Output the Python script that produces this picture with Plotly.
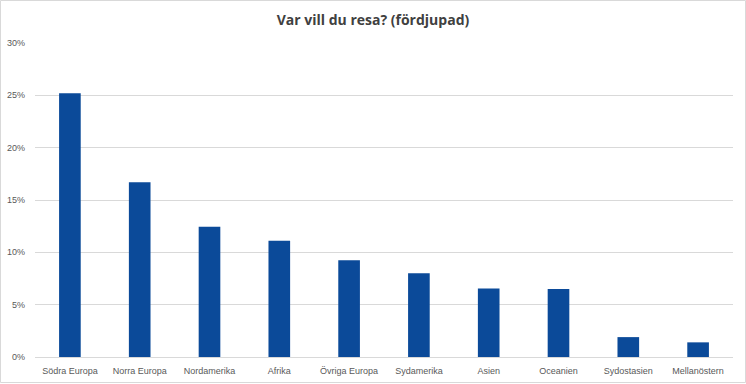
import plotly.graph_objects as go

categories = ["Södra Europa", "Norra Europa", "Nordamerika", "Afrika", "Övriga Europa",
              "Sydamerika", "Asien", "Oceanien", "Sydostasien", "Mellanöstern"]
values = [0.252, 0.167, 0.1245, 0.111, 0.0925, 0.080, 0.0655, 0.065, 0.019, 0.014]
y_ticks = [0, 0.05, 0.10, 0.15, 0.20, 0.25, 0.30]
y_tick_labels = ["0%", "5%", "10%", "15%", "20%", "25%", "30%"]

L, R, T, B = 35, 13, 43, 27
PW, PH = 746 - L - R, 384 - T - B

fig = go.Figure(go.Bar(x=categories, y=values, marker=dict(color="#0B4A99", line=dict(width=0))))

fig.update_layout(
    width=746, height=384,
    paper_bgcolor="white", plot_bgcolor="white",
    margin=dict(l=L, r=R, t=T, b=B, autoexpand=False),
    bargap=0.69,
    showlegend=False,
    title=dict(text="<b>Var vill du resa? (fördjupad)</b>", x=0.5, xanchor="center",
               y=0.948, yanchor="middle",
               font=dict(family="Open Sans", size=14, color="#404040")),
    font=dict(family="Liberation Sans", size=9, color="#595959"),
    shapes=[dict(type="rect", xref="paper", yref="paper",
                 x0=(-L + 0.5) / PW, x1=1 + (R - 0.5) / PW,
                 y0=(-B + 1.5) / PH, y1=1 + (T - 0.5) / PH,
                 line=dict(color="#D9D9D9", width=1), layer="below")],
)
fig.update_yaxes(range=[0, 0.30], tickvals=y_ticks, ticktext=y_tick_labels,
                 showgrid=True, gridcolor="#D9D9D9", gridwidth=1, zeroline=False,
                 showline=False, ticks="", ticklabelstandoff=9, fixedrange=True,
                 automargin=False)
fig.update_xaxes(showline=True, linecolor="#D9D9D9", linewidth=1, ticks="",
                 showgrid=False, ticklabelstandoff=5, fixedrange=True,
                 automargin=False)

fig.write_html("out.html", config={"displayModeBar": False},
               post_script="document.body.style.margin='0';document.body.style.overflow='hidden';")
